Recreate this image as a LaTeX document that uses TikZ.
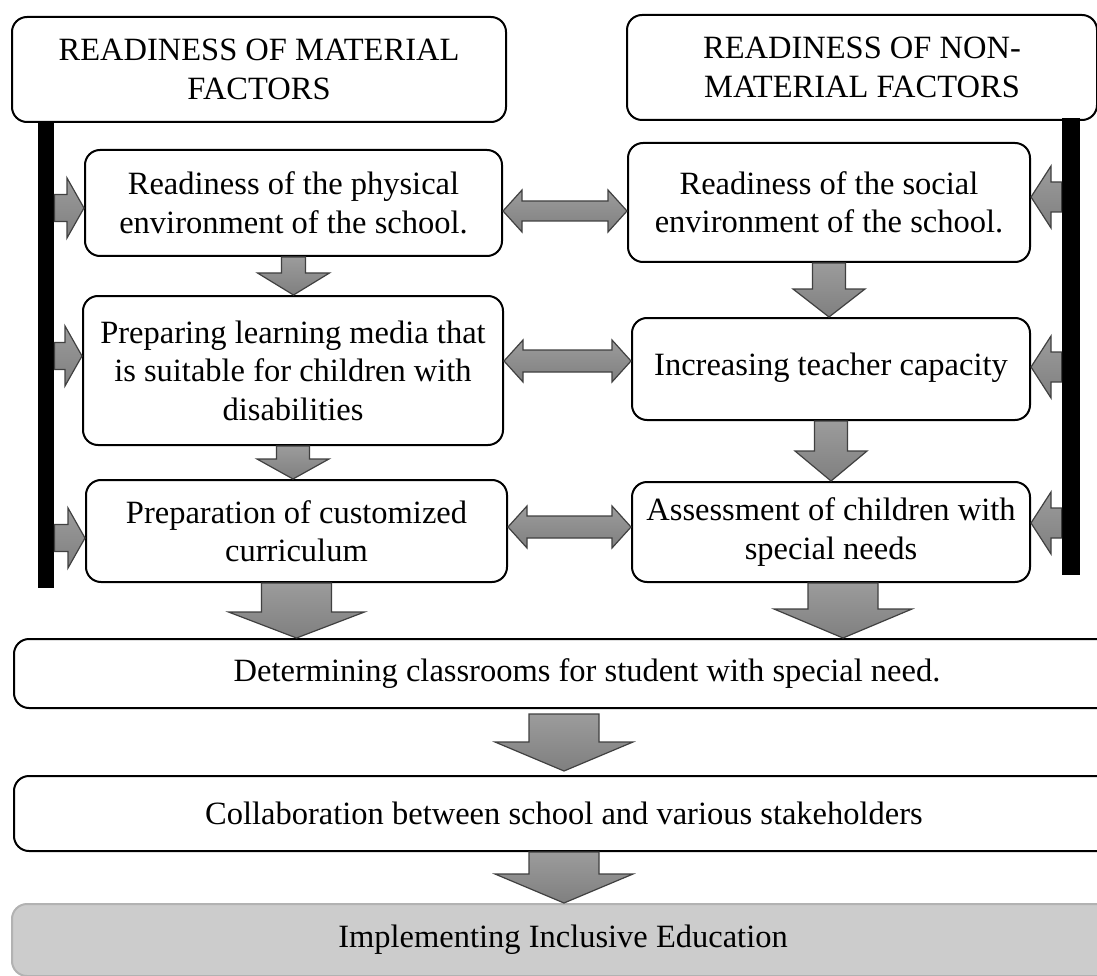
\documentclass[tikz,border=0pt]{standalone}
\usepackage{fontspec}
\setmainfont{Liberation Serif}
\usetikzlibrary{calc}

% block arrows: #1 from, #2 to, #3 shaft half width, #4 head half width, #5 head length
\newcommand{\fatdown}[5]{%
  \path[fat] let \p1 = (#1), \p2 = (#2) in
    (\x1-#3pt, \y1) -- (\x1+#3pt, \y1) -- (\x1+#3pt, \y2+#5pt) -- (\x1+#4pt, \y2+#5pt)
    -- (\x1, \y2) -- (\x1-#4pt, \y2+#5pt) -- (\x1-#3pt, \y2+#5pt) -- cycle;}
\newcommand{\fatright}[5]{%
  \path[fat] let \p1 = (#1), \p2 = (#2) in
    (\x1, \y1+#3pt) -- (\x2-#5pt, \y1+#3pt) -- (\x2-#5pt, \y1+#4pt) -- (\x2, \y1)
    -- (\x2-#5pt, \y1-#4pt) -- (\x2-#5pt, \y1-#3pt) -- (\x1, \y1-#3pt) -- cycle;}
\newcommand{\fatleft}[5]{%
  \path[fat] let \p1 = (#1), \p2 = (#2) in
    (\x1, \y1+#3pt) -- (\x2+#5pt, \y1+#3pt) -- (\x2+#5pt, \y1+#4pt) -- (\x2, \y1)
    -- (\x2+#5pt, \y1-#4pt) -- (\x2+#5pt, \y1-#3pt) -- (\x1, \y1-#3pt) -- cycle;}
\newcommand{\fatboth}[5]{%
  \path[fat] let \p1 = (#1), \p2 = (#2) in
    (\x1, \y1) -- (\x1+#5pt, \y1+#4pt) -- (\x1+#5pt, \y1+#3pt) -- (\x2-#5pt, \y1+#3pt)
    -- (\x2-#5pt, \y1+#4pt) -- (\x2, \y1) -- (\x2-#5pt, \y1-#4pt) -- (\x2-#5pt, \y1-#3pt)
    -- (\x1+#5pt, \y1-#3pt) -- (\x1+#5pt, \y1-#4pt) -- cycle;}

\begin{document}
\begin{tikzpicture}[x=1pt, y=-1pt, thick]
    \tikzset{
        box/.style  = {draw, line width=2pt, rounded corners=15, fill=white, align=center,
                       inner sep=0pt, font=\fontsize{32.5}{38.5}\selectfont},
        goal/.style = {box, fill=gray!40, draw=gray!60},
        rail/.style = {fill=black, inner sep=0pt},
        fat/.style  = {draw=black!75, line width=1.2pt, top color=gray!78, bottom color=gray!100}
    }
    \useasboundingbox (0,0) rectangle (1097,976);

    % the two factor groups
    \node[box, minimum width=494, minimum height=105] (matf) at (259,69.5) {READINESS OF MATERIAL\\FACTORS};
    \node[box, minimum width=470, minimum height=105] (nonf) at (862,67.5) {READINESS OF NON-\\MATERIAL FACTORS};
    \node[rail, minimum width=16, minimum height=466] (lbar) at (46,355) {};
    \node[rail, minimum width=18, minimum height=457] (rbar) at (1071,346.5) {};

    % left column
    \node[box, minimum width=417, minimum height=106] (phys) at (293.5,203) {Readiness of the physical\\environment of the school.};
    \node[box, minimum width=420, minimum height=149] (media) at (293,370.5) {Preparing learning media that\\is suitable for children with\\disabilities};
    \node[box, minimum width=421, minimum height=102] (curr) at (296.5,531) {Preparation of customized\\curriculum};

    % right column
    \node[box, minimum width=402, minimum height=119] (soc) at (829,202.5) {Readiness of the social\\environment of the school.};
    \node[box, minimum width=398, minimum height=102] (teach) at (831,369) {\raisebox{9pt}{Increasing teacher capacity}};
    \node[box, minimum width=398, minimum height=100] (assess) at (831,532) {Assessment of children with\\special needs};

    % bottom row
    \node[box, minimum width=1100, minimum height=69] (classes) at (564,673.5) {\hspace{46pt}Determining classrooms for student with special need.};
    \node[box, minimum width=1100, minimum height=75] (collab) at (564,813.5) {Collaboration between school and various stakeholders};
    \node[goal, minimum width=1102, minimum height=72] (incl) at (563,940) {Implementing Inclusive Education};

    % downward flow
    \fatdown{phys.south}{media.north}{12}{36}{22}
    \fatdown{media.south}{curr.north}{16.5}{36}{20}
    \fatdown{soc.south}{teach.north}{16.5}{36}{28}
    \fatdown{teach.south}{assess.north}{16.5}{36}{30}
    \fatdown{curr.south}{classes.north}{35}{68}{26}
    \fatdown{[xshift=12pt]assess.south}{classes.north}{35}{69}{29}
    \fatdown{[yshift=-5pt]classes.south}{[yshift=4pt]collab.north}{35}{69}{29}
    \fatdown{collab.south}{incl.north}{35}{69}{29}

    % from the rails into the boxes
    \fatright{lbar.east |- 0,208}{phys.west |- 0,208}{13.5}{30}{17}
    \fatright{lbar.east |- 0,356}{media.west |- 0,356}{13.5}{30}{17}
    \fatright{lbar.east |- 0,538}{curr.west |- 0,538}{13.5}{30}{17}
    \fatleft{rbar.west |- 0,197}{soc.east |- 0,197}{15}{31}{20}
    \fatleft{rbar.west |- 0,367}{teach.east |- 0,367}{15}{31}{20}
    \fatleft{rbar.west |- 0,523}{assess.east |- 0,523}{15}{31}{20}

    % links between the columns
    \fatboth{phys.east |- 0,211}{soc.west |- 0,211}{10}{21}{19}
    \fatboth{media.east |- 0,361}{teach.west |- 0,361}{11}{21}{19}
    \fatboth{curr.east |- 0,527}{assess.west |- 0,527}{11}{21}{19}
\end{tikzpicture}
\end{document}
